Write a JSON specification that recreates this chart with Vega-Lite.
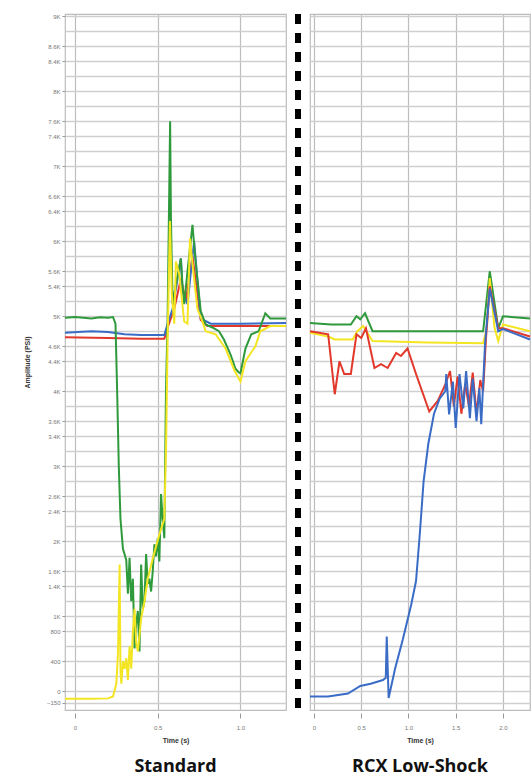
{
  "$schema": "https://vega.github.io/schema/vega-lite/v6.json",
  "padding": {"left": 22, "top": 11, "right": 0, "bottom": 0},
  "background": "white",
  "bounds": "flush",
  "spacing": 9,
  "config": {
    "view": {"stroke": "#bdbdbd", "strokeWidth": 1.2},
    "axis": {"labelFont": "Liberation Sans", "titleFont": "Liberation Sans", "labelFontSize": 6, "labelColor": "#777777", "titleFontSize": 7, "titleColor": "#333333", "titleFontWeight": "bold", "domain": false, "tickColor": "#999999", "gridColor": "#cfcfcf", "gridWidth": 1.4},
    "title": {"font": "Open Sans", "fontSize": 18, "fontWeight": "bold", "color": "#111111", "orient": "bottom", "anchor": "middle", "offset": 15}
  },
  "datasets": {
    "std": [
      {"s": "green", "t": -0.06, "v": 4980}, {"s": "green", "t": 0.0, "v": 4990}, {"s": "green", "t": 0.1, "v": 4970}, {"s": "green", "t": 0.15, "v": 4985}, {"s": "green", "t": 0.2, "v": 4980}, {"s": "green", "t": 0.23, "v": 4990}, {"s": "green", "t": 0.245, "v": 4900}, {"s": "green", "t": 0.255, "v": 4000}, {"s": "green", "t": 0.265, "v": 3000}, {"s": "green", "t": 0.275, "v": 2300}, {"s": "green", "t": 0.29, "v": 1900}, {"s": "green", "t": 0.31, "v": 1750}, {"s": "green", "t": 0.32, "v": 1300}, {"s": "green", "t": 0.33, "v": 1780}, {"s": "green", "t": 0.34, "v": 1200}, {"s": "green", "t": 0.35, "v": 1500}, {"s": "green", "t": 0.36, "v": 570}, {"s": "green", "t": 0.37, "v": 900}, {"s": "green", "t": 0.38, "v": 1070}, {"s": "green", "t": 0.39, "v": 530}, {"s": "green", "t": 0.4, "v": 1690}, {"s": "green", "t": 0.41, "v": 1100}, {"s": "green", "t": 0.42, "v": 1200}, {"s": "green", "t": 0.43, "v": 1830}, {"s": "green", "t": 0.44, "v": 1430}, {"s": "green", "t": 0.45, "v": 1500}, {"s": "green", "t": 0.46, "v": 1330}, {"s": "green", "t": 0.47, "v": 1600}, {"s": "green", "t": 0.48, "v": 1960}, {"s": "green", "t": 0.49, "v": 1800}, {"s": "green", "t": 0.5, "v": 2040}, {"s": "green", "t": 0.51, "v": 1730}, {"s": "green", "t": 0.52, "v": 2630}, {"s": "green", "t": 0.53, "v": 2300}, {"s": "green", "t": 0.54, "v": 2040}, {"s": "green", "t": 0.55, "v": 4000}, {"s": "green", "t": 0.56, "v": 5000}, {"s": "green", "t": 0.575, "v": 7600}, {"s": "green", "t": 0.58, "v": 6300}, {"s": "green", "t": 0.59, "v": 5160}, {"s": "green", "t": 0.6, "v": 5300}, {"s": "green", "t": 0.625, "v": 5600}, {"s": "green", "t": 0.64, "v": 5770}, {"s": "green", "t": 0.65, "v": 5400}, {"s": "green", "t": 0.66, "v": 5160}, {"s": "green", "t": 0.68, "v": 5600}, {"s": "green", "t": 0.71, "v": 6220}, {"s": "green", "t": 0.73, "v": 5700}, {"s": "green", "t": 0.76, "v": 5070}, {"s": "green", "t": 0.79, "v": 4890}, {"s": "green", "t": 0.83, "v": 4850}, {"s": "green", "t": 0.87, "v": 4800}, {"s": "green", "t": 0.9, "v": 4690}, {"s": "green", "t": 0.94, "v": 4490}, {"s": "green", "t": 0.97, "v": 4300}, {"s": "green", "t": 0.99, "v": 4250}, {"s": "green", "t": 1.0, "v": 4240}, {"s": "green", "t": 1.03, "v": 4570}, {"s": "green", "t": 1.065, "v": 4760}, {"s": "green", "t": 1.11, "v": 4800}, {"s": "green", "t": 1.15, "v": 5040}, {"s": "green", "t": 1.18, "v": 4970}, {"s": "green", "t": 1.275, "v": 4970},
      {"s": "yellow", "t": -0.06, "v": -100}, {"s": "yellow", "t": 0.0, "v": -100}, {"s": "yellow", "t": 0.1, "v": -100}, {"s": "yellow", "t": 0.2, "v": -95}, {"s": "yellow", "t": 0.23, "v": -70}, {"s": "yellow", "t": 0.25, "v": 100}, {"s": "yellow", "t": 0.26, "v": 500}, {"s": "yellow", "t": 0.27, "v": 1690}, {"s": "yellow", "t": 0.275, "v": 300}, {"s": "yellow", "t": 0.28, "v": 100}, {"s": "yellow", "t": 0.29, "v": 400}, {"s": "yellow", "t": 0.3, "v": 300}, {"s": "yellow", "t": 0.31, "v": 440}, {"s": "yellow", "t": 0.32, "v": 150}, {"s": "yellow", "t": 0.33, "v": 600}, {"s": "yellow", "t": 0.34, "v": 300}, {"s": "yellow", "t": 0.35, "v": 800}, {"s": "yellow", "t": 0.36, "v": 1100}, {"s": "yellow", "t": 0.37, "v": 650}, {"s": "yellow", "t": 0.38, "v": 530}, {"s": "yellow", "t": 0.4, "v": 970}, {"s": "yellow", "t": 0.42, "v": 1200}, {"s": "yellow", "t": 0.44, "v": 1500}, {"s": "yellow", "t": 0.47, "v": 1770}, {"s": "yellow", "t": 0.51, "v": 2090}, {"s": "yellow", "t": 0.54, "v": 2300}, {"s": "yellow", "t": 0.55, "v": 3200}, {"s": "yellow", "t": 0.56, "v": 4700}, {"s": "yellow", "t": 0.574, "v": 6270}, {"s": "yellow", "t": 0.585, "v": 5300}, {"s": "yellow", "t": 0.6, "v": 4900}, {"s": "yellow", "t": 0.61, "v": 5730}, {"s": "yellow", "t": 0.63, "v": 5560}, {"s": "yellow", "t": 0.66, "v": 4930}, {"s": "yellow", "t": 0.68, "v": 4900}, {"s": "yellow", "t": 0.695, "v": 6040}, {"s": "yellow", "t": 0.71, "v": 5700}, {"s": "yellow", "t": 0.74, "v": 5100}, {"s": "yellow", "t": 0.77, "v": 4930}, {"s": "yellow", "t": 0.79, "v": 4800}, {"s": "yellow", "t": 0.85, "v": 4760}, {"s": "yellow", "t": 0.91, "v": 4570}, {"s": "yellow", "t": 0.965, "v": 4270}, {"s": "yellow", "t": 1.0, "v": 4130}, {"s": "yellow", "t": 1.03, "v": 4400}, {"s": "yellow", "t": 1.09, "v": 4600}, {"s": "yellow", "t": 1.12, "v": 4800}, {"s": "yellow", "t": 1.18, "v": 4870}, {"s": "yellow", "t": 1.275, "v": 4870},
      {"s": "blue", "t": -0.06, "v": 4780}, {"s": "blue", "t": 0.1, "v": 4800}, {"s": "blue", "t": 0.2, "v": 4790}, {"s": "blue", "t": 0.3, "v": 4760}, {"s": "blue", "t": 0.4, "v": 4750}, {"s": "blue", "t": 0.54, "v": 4750}, {"s": "blue", "t": 0.56, "v": 4900}, {"s": "blue", "t": 0.59, "v": 5100}, {"s": "blue", "t": 0.64, "v": 5770}, {"s": "blue", "t": 0.65, "v": 5330}, {"s": "blue", "t": 0.68, "v": 5160}, {"s": "blue", "t": 0.72, "v": 6000}, {"s": "blue", "t": 0.76, "v": 4970}, {"s": "blue", "t": 0.82, "v": 4900}, {"s": "blue", "t": 1.0, "v": 4900}, {"s": "blue", "t": 1.275, "v": 4910},
      {"s": "red", "t": -0.06, "v": 4720}, {"s": "red", "t": 0.2, "v": 4710}, {"s": "red", "t": 0.4, "v": 4700}, {"s": "red", "t": 0.54, "v": 4700}, {"s": "red", "t": 0.56, "v": 4850}, {"s": "red", "t": 0.6, "v": 5100}, {"s": "red", "t": 0.64, "v": 5500}, {"s": "red", "t": 0.67, "v": 5200}, {"s": "red", "t": 0.71, "v": 5800}, {"s": "red", "t": 0.76, "v": 4950}, {"s": "red", "t": 0.8, "v": 4870}, {"s": "red", "t": 1.0, "v": 4870}, {"s": "red", "t": 1.275, "v": 4870}
    ],
    "rcx": [
      {"s": "green", "t": -0.042, "v": 4910}, {"s": "green", "t": 0.18, "v": 4890}, {"s": "green", "t": 0.39, "v": 4890}, {"s": "green", "t": 0.45, "v": 5000}, {"s": "green", "t": 0.49, "v": 4960}, {"s": "green", "t": 0.54, "v": 5040}, {"s": "green", "t": 0.62, "v": 4800}, {"s": "green", "t": 0.89, "v": 4800}, {"s": "green", "t": 1.3, "v": 4800}, {"s": "green", "t": 1.79, "v": 4800}, {"s": "green", "t": 1.86, "v": 5600}, {"s": "green", "t": 1.95, "v": 4840}, {"s": "green", "t": 2.0, "v": 5000}, {"s": "green", "t": 2.286, "v": 4970},
      {"s": "yellow", "t": -0.042, "v": 4780}, {"s": "yellow", "t": 0.15, "v": 4730}, {"s": "yellow", "t": 0.22, "v": 4690}, {"s": "yellow", "t": 0.41, "v": 4690}, {"s": "yellow", "t": 0.46, "v": 4800}, {"s": "yellow", "t": 0.52, "v": 4870}, {"s": "yellow", "t": 0.62, "v": 4670}, {"s": "yellow", "t": 1.2, "v": 4650}, {"s": "yellow", "t": 1.79, "v": 4640}, {"s": "yellow", "t": 1.83, "v": 4850}, {"s": "yellow", "t": 1.86, "v": 5510}, {"s": "yellow", "t": 1.91, "v": 4850}, {"s": "yellow", "t": 1.95, "v": 4670}, {"s": "yellow", "t": 2.0, "v": 4890}, {"s": "yellow", "t": 2.286, "v": 4800},
      {"s": "red", "t": -0.042, "v": 4800}, {"s": "red", "t": 0.15, "v": 4760}, {"s": "red", "t": 0.22, "v": 3960}, {"s": "red", "t": 0.27, "v": 4400}, {"s": "red", "t": 0.32, "v": 4230}, {"s": "red", "t": 0.39, "v": 4230}, {"s": "red", "t": 0.45, "v": 4760}, {"s": "red", "t": 0.5, "v": 4710}, {"s": "red", "t": 0.55, "v": 4840}, {"s": "red", "t": 0.64, "v": 4310}, {"s": "red", "t": 0.71, "v": 4360}, {"s": "red", "t": 0.78, "v": 4310}, {"s": "red", "t": 0.87, "v": 4510}, {"s": "red", "t": 0.92, "v": 4470}, {"s": "red", "t": 0.99, "v": 4570}, {"s": "red", "t": 1.08, "v": 4230}, {"s": "red", "t": 1.22, "v": 3730}, {"s": "red", "t": 1.31, "v": 3870}, {"s": "red", "t": 1.39, "v": 4090}, {"s": "red", "t": 1.44, "v": 4270}, {"s": "red", "t": 1.48, "v": 3800}, {"s": "red", "t": 1.52, "v": 4200}, {"s": "red", "t": 1.56, "v": 3700}, {"s": "red", "t": 1.6, "v": 4100}, {"s": "red", "t": 1.64, "v": 3800}, {"s": "red", "t": 1.68, "v": 4250}, {"s": "red", "t": 1.72, "v": 3700}, {"s": "red", "t": 1.76, "v": 4150}, {"s": "red", "t": 1.79, "v": 4000}, {"s": "red", "t": 1.82, "v": 4700}, {"s": "red", "t": 1.86, "v": 5400}, {"s": "red", "t": 1.95, "v": 4840}, {"s": "red", "t": 2.0, "v": 4840}, {"s": "red", "t": 2.286, "v": 4730},
      {"s": "blue", "t": -0.042, "v": -70}, {"s": "blue", "t": 0.15, "v": -70}, {"s": "blue", "t": 0.36, "v": -30}, {"s": "blue", "t": 0.49, "v": 70}, {"s": "blue", "t": 0.6, "v": 100}, {"s": "blue", "t": 0.73, "v": 150}, {"s": "blue", "t": 0.76, "v": 180}, {"s": "blue", "t": 0.77, "v": 730}, {"s": "blue", "t": 0.79, "v": -90}, {"s": "blue", "t": 0.86, "v": 310}, {"s": "blue", "t": 0.94, "v": 690}, {"s": "blue", "t": 1.03, "v": 1160}, {"s": "blue", "t": 1.08, "v": 1470}, {"s": "blue", "t": 1.12, "v": 2100}, {"s": "blue", "t": 1.16, "v": 2800}, {"s": "blue", "t": 1.21, "v": 3300}, {"s": "blue", "t": 1.27, "v": 3700}, {"s": "blue", "t": 1.33, "v": 3900}, {"s": "blue", "t": 1.39, "v": 4000}, {"s": "blue", "t": 1.4, "v": 4230}, {"s": "blue", "t": 1.43, "v": 3690}, {"s": "blue", "t": 1.47, "v": 4130}, {"s": "blue", "t": 1.5, "v": 3510}, {"s": "blue", "t": 1.54, "v": 4230}, {"s": "blue", "t": 1.58, "v": 3770}, {"s": "blue", "t": 1.61, "v": 4270}, {"s": "blue", "t": 1.65, "v": 3640}, {"s": "blue", "t": 1.68, "v": 4170}, {"s": "blue", "t": 1.72, "v": 3600}, {"s": "blue", "t": 1.75, "v": 4040}, {"s": "blue", "t": 1.77, "v": 3560}, {"s": "blue", "t": 1.81, "v": 4630}, {"s": "blue", "t": 1.86, "v": 5370}, {"s": "blue", "t": 1.95, "v": 4800}, {"s": "blue", "t": 2.0, "v": 4830}, {"s": "blue", "t": 2.286, "v": 4690}
    ],
    "divider": [{"d": 0}]
  },
  "hconcat": [
    {
      "width": 221,
      "height": 696,
      "title": {"text": "Standard"},
      "data": {"name": "std"},
      "encoding": {
        "x": {"field": "t", "type": "quantitative", "scale": {"domain": [-0.06, 1.275], "nice": false, "zero": false}, "axis": {"title": "Time (s)", "values": [0, 0.5, 1.0], "labelExpr": "datum.value == 0 ? '0' : format(datum.value, '.1f')", "tickSize": 5, "offset": 3, "labelPadding": 6, "titlePadding": 6, "gridColor": "#bdbdbd", "gridWidth": 1.2}},
        "y": {"field": "v", "type": "quantitative", "scale": {"domain": [-250, 9030], "nice": false, "zero": false}, "axis": {"title": "Amplitude (PSI)", "titlePadding": 16, "tickSize": 3, "labelPadding": 2,
          "values": [-150, 0, 200, 400, 600, 800, 1000, 1200, 1400, 1600, 1800, 2000, 2200, 2400, 2600, 2800, 3000, 3200, 3400, 3600, 3800, 4000, 4200, 4400, 4600, 4800, 5000, 5200, 5400, 5600, 5800, 6000, 6200, 6400, 6600, 6800, 7000, 7200, 7400, 7600, 7800, 8000, 8200, 8400, 8600, 8800, 9000],
          "labelExpr": "indexof([9000,8600,8400,8000,7600,7400,7000,6600,6400,6000,5600,5400,5000,4600,4400,4000,3600,3400,3000,2600,2400,2000,1600,1400,1000,800,400,0,-150], datum.value) >= 0 ? (abs(datum.value) >= 1000 ? format(datum.value / 1000, '~g') + 'K' : format(datum.value, 'd')) : ''",
          "tickOpacity": {"condition": {"test": "indexof([9000,8600,8400,8000,7600,7400,7000,6600,6400,6000,5600,5400,5000,4600,4400,4000,3600,3400,3000,2600,2400,2000,1600,1400,1000,800,400,0,-150], datum.value) >= 0", "value": 1}, "value": 0}
        }}
      },
      "layer": [
        {"transform": [{"filter": "datum.s == 'red'"}], "mark": {"type": "line", "color": "#e2372b", "strokeWidth": 2}},
        {"transform": [{"filter": "datum.s == 'blue'"}], "mark": {"type": "line", "color": "#3a6cc6", "strokeWidth": 2}},
        {"transform": [{"filter": "datum.s == 'green'"}], "mark": {"type": "line", "color": "#2f9a3c", "strokeWidth": 2}},
        {"transform": [{"filter": "datum.s == 'yellow'"}], "mark": {"type": "line", "color": "#f4e523", "strokeWidth": 2}}
      ]
    },
    {
      "width": 6,
      "height": 696,
      "view": {"stroke": null},
      "data": {"name": "divider"},
      "mark": {"type": "rule", "color": "#000000", "strokeWidth": 6, "strokeDash": [10, 9]},
      "encoding": {
        "x": {"field": "d", "type": "quantitative", "scale": {"domain": [-1, 1]}, "axis": null}
      }
    },
    {
      "width": 220,
      "height": 696,
      "title": {"text": "RCX Low-Shock"},
      "data": {"name": "rcx"},
      "encoding": {
        "x": {"field": "t", "type": "quantitative", "scale": {"domain": [-0.042, 2.286], "nice": false, "zero": false}, "axis": {"title": "Time (s)", "values": [0, 0.5, 1.0, 1.5, 2.0], "labelExpr": "datum.value == 0 ? '0' : format(datum.value, '.1f')", "tickSize": 5, "offset": 3, "labelPadding": 6, "titlePadding": 6, "gridColor": "#bdbdbd", "gridWidth": 1.2}},
        "y": {"field": "v", "type": "quantitative", "scale": {"domain": [-250, 9030], "nice": false, "zero": false}, "axis": {"title": null, "labels": false, "ticks": false,
          "values": [-150, 0, 200, 400, 600, 800, 1000, 1200, 1400, 1600, 1800, 2000, 2200, 2400, 2600, 2800, 3000, 3200, 3400, 3600, 3800, 4000, 4200, 4400, 4600, 4800, 5000, 5200, 5400, 5600, 5800, 6000, 6200, 6400, 6600, 6800, 7000, 7200, 7400, 7600, 7800, 8000, 8200, 8400, 8600, 8800, 9000]}}
      },
      "layer": [
        {"transform": [{"filter": "datum.s == 'green'"}], "mark": {"type": "line", "color": "#2f9a3c", "strokeWidth": 2}},
        {"transform": [{"filter": "datum.s == 'yellow'"}], "mark": {"type": "line", "color": "#f4e523", "strokeWidth": 2}},
        {"transform": [{"filter": "datum.s == 'red'"}], "mark": {"type": "line", "color": "#e2372b", "strokeWidth": 2}},
        {"transform": [{"filter": "datum.s == 'blue'"}], "mark": {"type": "line", "color": "#3a6cc6", "strokeWidth": 2}}
      ]
    }
  ]
}
